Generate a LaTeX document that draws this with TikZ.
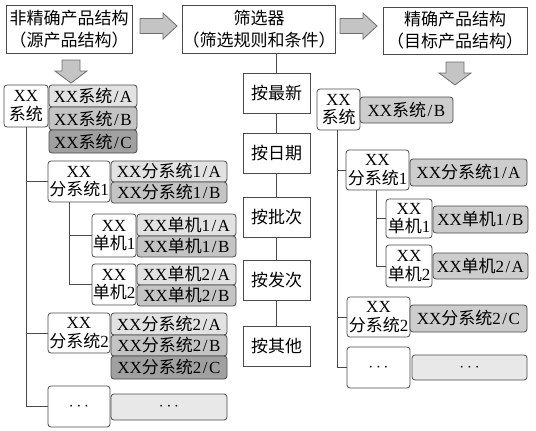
\documentclass[tikz,border=0pt]{standalone}
\usepackage{fontspec}
\setmainfont{Liberation Serif}
\newfontfamily\cjkfont{Noto Sans CJK SC}
\newcommand\zh[1]{{\cjkfont #1}}
\newcommand\sep{\kern1.5pt/\kern1.5pt}
\usetikzlibrary{calc}
\definecolor{bd}{HTML}{4A4A4A}
\definecolor{va}{HTML}{E2E2E2}
\definecolor{vb}{HTML}{C4C4C4}
\definecolor{vc}{HTML}{A0A0A0}
\definecolor{vr}{HTML}{CDCDCD}
\definecolor{ve}{HTML}{E8E8E8}
\definecolor{arf}{HTML}{C4C4C4}
\definecolor{ard}{HTML}{6E6E6E}
\tikzset{
  base/.style={draw=bd, line width=0.8pt, inner sep=0pt, align=center, text=black,
    font=\fontsize{17}{18.5}\selectfont},
  lbl/.style={base, rounded corners=3pt, fill=white},
  val/.style={base, rounded corners=3pt},
  topbox/.style={base, fill=white, font=\fontsize{17}{22}\selectfont},
  fbox/.style={base, fill=white, minimum width=67pt, minimum height=40pt},
  link/.style={draw=bd, line width=0.8pt},
  blockarrow/.style={fill=arf, draw=ard, line width=0.8pt, line join=miter},
  rarr/.pic={\draw[blockarrow] (0,-7.5) -- (23,-7.5) -- (23,-13) -- (37,0) -- (23,13) -- (23,7.5) -- (0,7.5) -- cycle;},
  darr/.pic={\draw[blockarrow] (-9,0) -- (-9,11) -- (-16,11) -- (0,23) -- (16,11) -- (9,11) -- (9,0) -- cycle;}
}
\begin{document}
\begin{tikzpicture}[x=1pt,y=-1pt]
\useasboundingbox (0,0) rectangle (536,431);
% top boxes
\node[topbox, minimum width=126pt, minimum height=48pt] (tb1) at (69,29) {\zh{非精确产品结构}\\\zh{（源产品结构）}};
\node[topbox, minimum width=148pt, minimum height=48pt] (mb) at (259,29) {\zh{筛选器}\\\zh{（筛选规则和条件）}};
\node[topbox, minimum width=144pt, minimum height=47pt] (tb3) at (455,30.5) {\zh{精确产品结构}\\\zh{（目标产品结构）}};
\pic at (140,26) {rarr};
\pic at (340,26) {rarr};
\pic at (71,60) {darr};
\pic at (455,62) {darr};
% filter boxes
\node[fbox] (f1) at (276.5,93) {\zh{按最新}};
\node[fbox] (f2) at (276.5,153) {\zh{按日期}};
\node[fbox] (f3) at (276.5,217) {\zh{按批次}};
\node[fbox] (f4) at (276.5,280) {\zh{按发次}};
\node[fbox] (f5) at (276.5,346) {\zh{按其他}};
\draw[link] (f1.north |- mb.south) -- (f1.north);
\draw[link] (f1.south) -- (f2.north);
\draw[link] (f2.south) -- (f3.north);
\draw[link] (f3.south) -- (f4.north);
\draw[link] (f4.south) -- (f5.north);
% left tree
\node[lbl, minimum width=44pt, minimum height=42pt] (ls) at (26,106) {XX\\\zh{系统}};
\node[val, fill=va, minimum width=88pt, minimum height=22pt] (lsA) at (93,96) {XX\zh{系统}\sep A};
\node[val, fill=vb, minimum width=88pt, minimum height=23pt] (lsB) at (93,118.5) {XX\zh{系统}\sep B};
\node[val, fill=vc, minimum width=88pt, minimum height=23pt] (lsC) at (93,141.5) {XX\zh{系统}\sep C};
\node[lbl, minimum width=62pt, minimum height=41pt] (lf1) at (79,181.5) {XX\\\zh{分系统}1};
\node[val, fill=va, minimum width=116pt, minimum height=21pt] (lf1A) at (169,171.5) {XX\zh{分系统}1\sep A};
\node[val, fill=vb, minimum width=116pt, minimum height=21pt] (lf1B) at (169,192.5) {XX\zh{分系统}1\sep B};
\node[lbl, minimum width=44pt, minimum height=43pt] (ld1) at (114,235.5) {XX\\\zh{单机}1};
\node[val, fill=va, minimum width=99pt, minimum height=22pt] (ld1A) at (186.5,225) {XX\zh{单机}1\sep A};
\node[val, fill=vb, minimum width=99pt, minimum height=21pt] (ld1B) at (186.5,246.5) {XX\zh{单机}1\sep B};
\node[lbl, minimum width=44pt, minimum height=41pt] (ld2) at (114,284.5) {XX\\\zh{单机}2};
\node[val, fill=va, minimum width=99pt, minimum height=21pt] (ld2A) at (186.5,274.5) {XX\zh{单机}2\sep A};
\node[val, fill=vb, minimum width=99pt, minimum height=21pt] (ld2B) at (186.5,295.5) {XX\zh{单机}2\sep B};
\node[lbl, minimum width=62pt, minimum height=40pt] (lf2) at (79,333) {XX\\\zh{分系统}2};
\node[val, fill=va, minimum width=116pt, minimum height=22pt] (lf2A) at (169,324) {XX\zh{分系统}2\sep A};
\node[val, fill=vb, minimum width=116pt, minimum height=21pt] (lf2B) at (169,345.5) {XX\zh{分系统}2\sep B};
\node[val, fill=vc, minimum width=116pt, minimum height=23pt] (lf2C) at (169,367.5) {XX\zh{分系统}2\sep C};
\node[lbl, minimum width=62pt, minimum height=41pt] (le) at (79,406.5) {$\cdots$};
\node[val, fill=ve, minimum width=116pt, minimum height=26pt] (leV) at (169,407) {$\cdots$};
\draw[link] (ls.south) |- (lf1.west);
\draw[link] (ls.south) |- (lf2.west);
\draw[link] (ls.south) |- (le.west);
\coordinate (lf1d) at ([xshift=-10pt]lf1.south);
\draw[link] (lf1d) |- (ld1.west);
\draw[link] (lf1d) |- (ld2.west);
% right tree
\node[lbl, minimum width=43pt, minimum height=41pt] (rs) at (338.5,109.5) {XX\\\zh{系统}};
\node[val, fill=vr, minimum width=93pt, minimum height=26pt] (rsV) at (406.5,110) {XX\zh{系统}\sep B};
\node[lbl, minimum width=63pt, minimum height=40pt] (rf1) at (377.5,170) {XX\\\zh{分系统}1};
\node[val, fill=vr, minimum width=117pt, minimum height=27pt] (rf1V) at (468.5,172.5) {XX\zh{分系统}1\sep A};
\node[lbl, minimum width=46pt, minimum height=39pt] (rd1) at (409,218.5) {XX\\\zh{单机}1};
\node[val, fill=vr, minimum width=95pt, minimum height=27pt] (rd1V) at (480.5,219.5) {XX\zh{单机}1\sep B};
\node[lbl, minimum width=46pt, minimum height=42pt] (rd2) at (409,266) {XX\\\zh{单机}2};
\node[val, fill=vr, minimum width=95pt, minimum height=26pt] (rd2V) at (480.5,266) {XX\zh{单机}2\sep A};
\node[lbl, minimum width=63pt, minimum height=40pt] (rf2) at (378.5,317) {XX\\\zh{分系统}2};
\node[val, fill=vr, minimum width=117pt, minimum height=27pt] (rf2V) at (468.5,318.5) {XX\zh{分系统}2\sep C};
\node[lbl, minimum width=63pt, minimum height=41pt] (re) at (378.5,367.5) {$\cdots$};
\node[val, fill=ve, minimum width=115pt, minimum height=25pt] (reV) at (469.5,367.5) {$\cdots$};
\coordinate (rsd) at ([xshift=-1.5pt]rs.south);
\draw[link] (rsd) |- (rf1.west);
\draw[link] (rsd) |- (rf2.west);
\draw[link] (rsd) |- (re.west);
\coordinate (rf1d) at ([xshift=-1.5pt]rf1.south);
\draw[link] (rf1d) |- (rd1.west);
\draw[link] (rf1d) |- (rd2.west);
\end{tikzpicture}
\end{document}
